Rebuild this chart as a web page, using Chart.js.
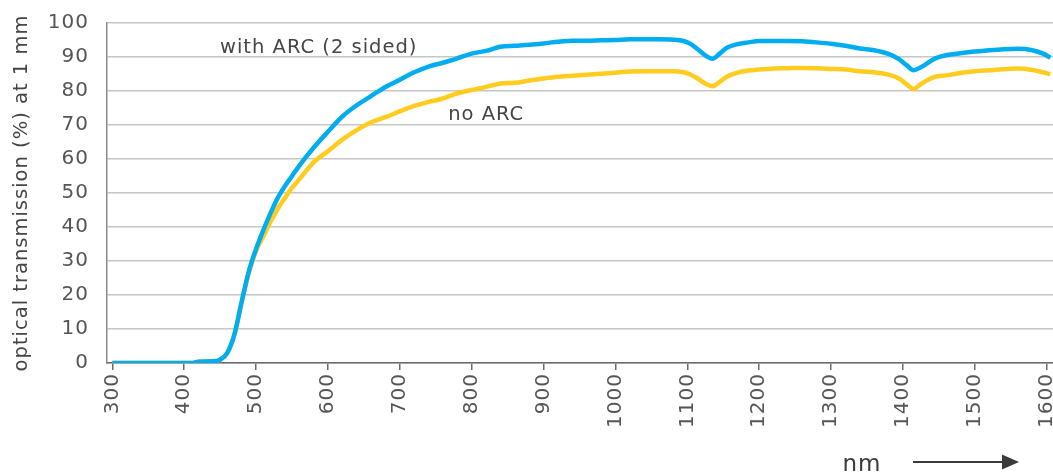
<!DOCTYPE html>
<html>
<head>
<meta charset="utf-8">
<script src="https://cdn.jsdelivr.net/npm/chart.js@4.4.1/dist/chart.umd.min.js"></script>
<style>
  html, body { margin: 0; padding: 0; background: #ffffff; }
  #wrap { width: 1053px; height: 474px; }
</style>
</head>
<body>
<div id="wrap"><canvas id="chart" width="1053" height="474"></canvas></div>
<script>
// Wavelength grid (nm) shared by both transmission curves
const wavelengths = [
  300, 350, 400, 410, 420, 440, 450, 460, 470, 480, 490, 500, 510, 520, 530, 540,
  550, 560, 580, 600, 620, 640, 660, 680, 700, 720, 740, 760, 780, 800, 820, 840,
  860, 880, 900, 920, 940, 960, 980, 1000, 1020, 1040, 1060, 1080, 1095, 1105, 1115,
  1125, 1135, 1145, 1155, 1170, 1185, 1200, 1220, 1240, 1260, 1280, 1300, 1320, 1340,
  1360, 1380, 1395, 1405, 1415, 1425, 1435, 1445, 1460, 1480, 1500, 1520, 1540, 1560,
  1580, 1595, 1605
];

// Optical transmission (%) at 1 mm, anti-reflection coated on both sides
const withArc = [
  0, 0, 0, 0, 0.4, 0.5, 1, 3, 8.5, 18, 27, 33.5, 39, 44, 48.5, 52,
  55, 58, 63.3, 68, 72.5, 75.8, 78.5, 81.2, 83.3, 85.5, 87.2, 88.3, 89.6, 91, 91.8, 93,
  93.3, 93.6, 94, 94.5, 94.8, 94.8, 94.9, 95, 95.2, 95.2, 95.2, 95.1, 94.7, 93.8, 92.2,
  90.5, 89.5, 91, 92.7, 93.8, 94.3, 94.7, 94.7, 94.7, 94.6, 94.3, 93.9, 93.3, 92.5,
  92, 90.9, 89.3, 87.6, 86.1, 87, 88.3, 89.6, 90.5, 91.1, 91.6, 92, 92.3, 92.4,
  92, 91, 89.8
];

// Optical transmission (%) at 1 mm, uncoated
const noArc = [
  0, 0, 0, 0, 0.4, 0.5, 1, 3, 8.5, 18, 26.5, 33, 37.2, 41.5, 45.3, 48.5,
  51.5, 54, 59, 62.3, 65.7, 68.5, 70.8, 72.3, 74, 75.6, 76.8, 77.8, 79.3, 80.3, 81.2, 82.2,
  82.4, 83.1, 83.7, 84.2, 84.5, 84.8, 85.1, 85.4, 85.7, 85.8, 85.8, 85.8, 85.5, 84.8, 83.6,
  82.2, 81.4, 82.7, 84.2, 85.4, 86, 86.3, 86.6, 86.7, 86.8, 86.7, 86.5, 86.3, 85.8,
  85.5, 84.8, 83.6, 82, 80.6, 82, 83.3, 84.2, 84.6, 85.3, 85.8, 86.1, 86.4, 86.6,
  86.2, 85.5, 84.9
];

// Axis tick labels
const xTickValues = [300, 400, 500, 600, 700, 800, 900, 1000, 1100, 1200, 1300, 1400, 1500, 1600];
const yTickValues = [0, 10, 20, 30, 40, 50, 60, 70, 80, 90, 100];

// In-chart series labels, anchored in data coordinates
const seriesLabels = [
  { text: 'with ARC (2 sided)', nm: 449.8, value: 91.3 },
  { text: 'no ARC', nm: 767.3, value: 71.6 }
];

const FONT = '"DejaVu Sans", "Open Sans", sans-serif';
const SPACING = '1px';
const TEXT_COLOR = '#454545';

const toPoints = (xs, ys) => xs.map((x, i) => ({ x, y: ys[i] }));

// Wider tracking for every piece of canvas text
const tracking = {
  id: 'tracking',
  beforeUpdate(chart) { chart.ctx.letterSpacing = SPACING; },
  beforeDraw(chart) { chart.ctx.letterSpacing = SPACING; }
};

// Series labels inside the plot, plus the unit caption with its arrow
const captions = {
  id: 'captions',
  afterDraw(chart) {
    const { ctx, scales } = chart;
    ctx.save();
    ctx.letterSpacing = SPACING;
    ctx.fillStyle = TEXT_COLOR;
    ctx.font = '19.5px ' + FONT;
    ctx.textAlign = 'left';
    ctx.textBaseline = 'alphabetic';
    seriesLabels.forEach(l => {
      ctx.fillText(l.text, scales.x.getPixelForValue(l.nm), scales.y.getPixelForValue(l.value));
    });

    // unit caption
    ctx.font = '23px ' + FONT;
    ctx.fillStyle = '#3a3a3a';
    ctx.textAlign = 'center';
    ctx.fillText('nm', 862, 471);

    // arrow
    ctx.strokeStyle = '#3a3a3a';
    ctx.lineWidth = 2;
    ctx.beginPath();
    ctx.moveTo(913, 462);
    ctx.lineTo(1005, 462);
    ctx.stroke();
    ctx.fillStyle = '#3a3a3a';
    ctx.beginPath();
    ctx.moveTo(1019, 462);
    ctx.lineTo(1002, 454.5);
    ctx.lineTo(1002, 469.5);
    ctx.closePath();
    ctx.fill();
    ctx.restore();
  }
};

new Chart(document.getElementById('chart'), {
  type: 'line',
  data: {
    datasets: [
      {
        label: 'with ARC (2 sided)',
        data: toPoints(wavelengths, withArc),
        borderColor: '#00aeef',
        borderWidth: 4.5,
        pointRadius: 0,
        cubicInterpolationMode: 'monotone',
        order: 0
      },
      {
        label: 'no ARC',
        data: toPoints(wavelengths, noArc),
        borderColor: '#ffcc1f',
        borderWidth: 4.5,
        pointRadius: 0,
        cubicInterpolationMode: 'monotone',
        order: 1
      }
    ]
  },
  options: {
    responsive: false,
    animation: false,
    devicePixelRatio: 1,
    layout: { padding: { top: 23, right: 0, left: 0, bottom: 0 } },
    plugins: {
      legend: { display: false },
      tooltip: { enabled: false }
    },
    scales: {
      x: {
        type: 'linear',
        min: 292.6,
        max: 1608.8,
        afterBuildTicks(scale) { scale.ticks = xTickValues.map(v => ({ value: v })); },
        afterFit(scale) {
          scale.height = 111;
          scale.paddingLeft = 0;
          scale.paddingRight = 0;
        },
        border: { display: true, color: '#6a6a6a', width: 1.5 },
        grid: {
          drawOnChartArea: false,
          drawTicks: true,
          tickLength: 7,
          color: '#6a6a6a',
          lineWidth: 1.5
        },
        ticks: {
          autoSkip: false,
          minRotation: 90,
          maxRotation: 90,
          padding: 3,
          color: '#555555',
          font: { family: FONT, size: 20 },
          callback: v => String(v)
        }
      },
      y: {
        min: 0,
        max: 100,
        afterBuildTicks(scale) { scale.ticks = yTickValues.map(v => ({ value: v })); },
        afterFit(scale) {
          scale.width = 107;
          scale.paddingTop = 0;
          scale.paddingBottom = 0;
        },
        border: { display: true, color: '#8a8a8a', width: 1.5 },
        grid: {
          drawTicks: false,
          color: '#c6c6c6',
          lineWidth: 1.5
        },
        ticks: {
          padding: 18,
          color: '#555555',
          font: { family: FONT, size: 20 }
        },
        title: {
          display: true,
          text: 'optical transmission (%) at 1 mm',
          color: TEXT_COLOR,
          font: { family: FONT, size: 19.5 },
          padding: { top: 10, bottom: 0 }
        }
      }
    }
  },
  plugins: [tracking, captions]
});
</script>
</body>
</html>
